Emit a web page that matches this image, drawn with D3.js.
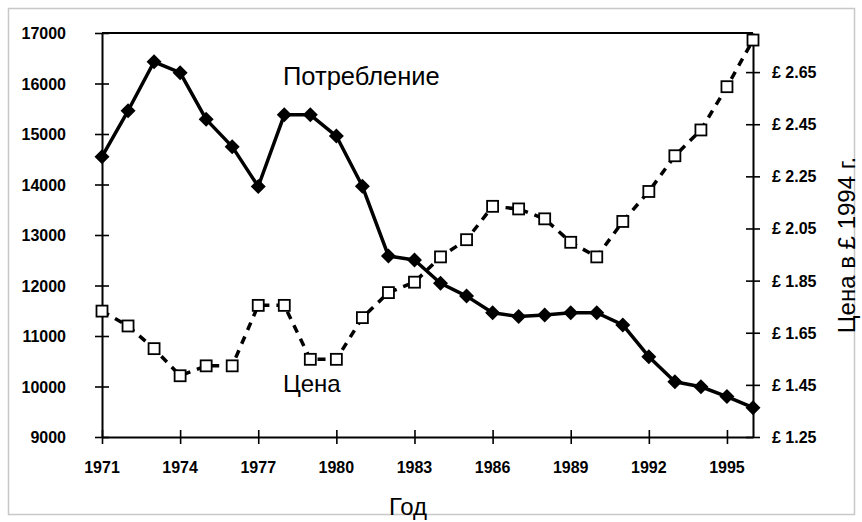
<!DOCTYPE html>
<html>
<head>
<meta charset="utf-8">
<script src="https://cdn.jsdelivr.net/npm/d3@7"></script>
<style>
    body { margin: 0; background: #fff; }
    text { font-family: "Liberation Sans", Arial, sans-serif; }
    .tick-label { font-size: 16px; font-weight: bold; fill: #000; }
    .big-label { font-size: 24px; fill: #000; }
</style>
</head>
<body>
<div id="chart"></div>
<script>
// data
var years = [1971, 1972, 1973, 1974, 1975, 1976, 1977, 1978, 1979, 1980, 1981, 1982, 1983,
    1984, 1985, 1986, 1987, 1988, 1989, 1990, 1991, 1992, 1993, 1994, 1995, 1996];
var consumption = [14550, 15460, 16430, 16215, 15290, 14750, 13960, 15380, 15380, 14960, 13965, 12585, 12505,
    12045, 11790, 11460, 11385, 11415, 11460, 11460, 11220, 10590, 10095, 9995, 9800, 9580];
var price = [1.733, 1.676, 1.589, 1.485, 1.523, 1.523, 1.755, 1.755, 1.548, 1.548, 1.708, 1.804, 1.844,
    1.941, 2.007, 2.135, 2.125, 2.087, 1.997, 1.941, 2.077, 2.192, 2.329, 2.428, 2.594, 2.773];
var xTicks = [1971, 1974, 1977, 1980, 1983, 1986, 1989, 1992, 1995];
var leftTicks = [9000, 10000, 11000, 12000, 13000, 14000, 15000, 16000, 17000];
var rightTicks = [1.25, 1.45, 1.65, 1.85, 2.05, 2.25, 2.45, 2.65];

var svgWidth = 862;
var svgHeight = 522;

var plot = { left: 102, right: 753, top: 33, bottom: 437 };

var svg = d3.select("#chart")
    .append("svg")
    .attr("width", svgWidth)
    .attr("height", svgHeight);

// outer chart border
svg.append("rect")
    .attr("x", 8.5)
    .attr("y", 8.5)
    .attr("width", 846)
    .attr("height", 506)
    .attr("fill", "none")
    .attr("stroke", "#c8c8c8")
    .attr("stroke-width", 1.5);

var xScale = d3.scaleLinear()
    .domain([1971, 1996])
    .range([plot.left, plot.right]);

var yLeft = d3.scaleLinear()
    .domain([9000, 17000])
    .range([plot.bottom, plot.top]);

var yRight = d3.scaleLinear()
    .domain([1.25, 2.8])
    .range([plot.bottom, plot.top]);

// axes: ticks cross the axis line, labels drawn separately
var bottomAxis = d3.axisBottom(xScale).tickValues(xTicks).tickSizeInner(7).tickSizeOuter(0).tickFormat("");
var leftAxis = d3.axisLeft(yLeft).tickValues(leftTicks).tickSizeInner(7).tickSizeOuter(0).tickFormat("");
var rightAxis = d3.axisRight(yRight).tickValues(rightTicks).tickSizeInner(7).tickSizeOuter(0).tickFormat("");

function styleAxis(g, dir) {
    g.select(".domain").attr("stroke", "#000").attr("stroke-width", 2);
    g.selectAll(".tick line")
        .attr("stroke", "#000")
        .attr("stroke-width", 1.6)
        .each(function () {
            var t = d3.select(this);
            if (dir === "x") t.attr("y1", -7).attr("y2", 7);
            else t.attr("x1", -7).attr("x2", 7);
        });
}

svg.append("g")
    .attr("transform", `translate(0, ${plot.bottom})`)
    .call(bottomAxis)
    .call(g => styleAxis(g, "x"));

svg.append("g")
    .attr("transform", `translate(${plot.left}, 0)`)
    .call(leftAxis)
    .call(g => styleAxis(g, "y"));

svg.append("g")
    .attr("transform", `translate(${plot.right}, 0)`)
    .call(rightAxis)
    .call(g => styleAxis(g, "y"));

// top border of plot
svg.append("line")
    .attr("x1", plot.left)
    .attr("x2", plot.right)
    .attr("y1", plot.top)
    .attr("y2", plot.top)
    .attr("stroke", "#000")
    .attr("stroke-width", 2);

// tick labels
svg.selectAll(".xlab")
    .data(xTicks)
    .enter()
    .append("text")
    .classed("tick-label", true)
    .attr("x", d => xScale(d))
    .attr("y", 473)
    .attr("text-anchor", "middle")
    .text(d => d);

svg.selectAll(".ylab")
    .data(leftTicks)
    .enter()
    .append("text")
    .classed("tick-label", true)
    .attr("x", 66)
    .attr("y", d => yLeft(d) + 6)
    .attr("text-anchor", "end")
    .text(d => d);

svg.selectAll(".rlab")
    .data(rightTicks)
    .enter()
    .append("text")
    .classed("tick-label", true)
    .attr("x", 772)
    .attr("y", d => yRight(d) + 6)
    .text(d => "£ " + d.toFixed(2));

// axis titles
svg.append("text")
    .classed("big-label", true)
    .attr("x", 408)
    .attr("y", 515)
    .attr("text-anchor", "middle")
    .text("Год");

svg.append("text")
    .classed("big-label", true)
    .attr("transform", "translate(855, 245) rotate(-90)")
    .attr("text-anchor", "middle")
    .text("Цена в £ 1994 г.");

// series labels
svg.append("text")
    .classed("big-label", true)
    .style("font-size", "25.5px")
    .attr("x", 283)
    .attr("y", 85)
    .text("Потребление");

svg.append("text")
    .classed("big-label", true)
    .attr("x", 283)
    .attr("y", 392)
    .text("Цена");

// price series (secondary axis), dashed with hollow squares
var priceLine = d3.line()
    .x((d, i) => xScale(years[i]))
    .y(d => yRight(d));

svg.append("path")
    .datum(price)
    .attr("d", priceLine)
    .attr("fill", "none")
    .attr("stroke", "#000")
    .attr("stroke-width", 3.5)
    .attr("stroke-dasharray", "8,7");

svg.selectAll(".sq")
    .data(price)
    .enter()
    .append("rect")
    .attr("x", (d, i) => xScale(years[i]) - 5.5)
    .attr("y", d => yRight(d) - 5.5)
    .attr("width", 11)
    .attr("height", 11)
    .attr("fill", "#fff")
    .attr("stroke", "#000")
    .attr("stroke-width", 1.8);

// consumption series, solid with diamonds
var consLine = d3.line()
    .x((d, i) => xScale(years[i]))
    .y(d => yLeft(d));

svg.append("path")
    .datum(consumption)
    .attr("d", consLine)
    .attr("fill", "none")
    .attr("stroke", "#000")
    .attr("stroke-width", 3.5)
    .attr("stroke-linejoin", "round");

svg.selectAll(".dia")
    .data(consumption)
    .enter()
    .append("path")
    .attr("transform", (d, i) => `translate(${xScale(years[i])}, ${yLeft(d)})`)
    .attr("d", "M0,-7.5L7.5,0L0,7.5L-7.5,0Z")
    .attr("fill", "#000");
</script>
</body>
</html>
